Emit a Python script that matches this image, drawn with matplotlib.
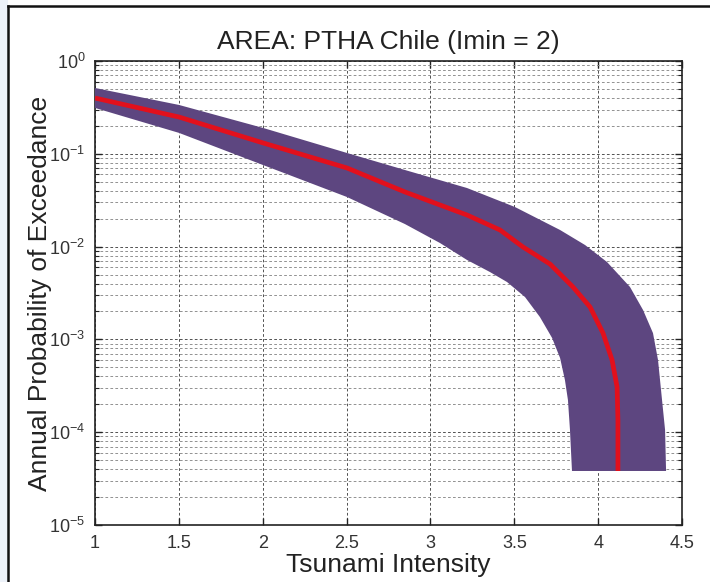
import matplotlib.pyplot as plt
import numpy as np
from matplotlib.lines import Line2D
from matplotlib.patches import Rectangle
from matplotlib.ticker import LogLocator, NullFormatter

plt.rcParams['font.family'] = ['Liberation Sans', 'DejaVu Sans']
plt.rcParams['mathtext.default'] = 'regular'

# upper edge of the uncertainty band (intensity, annual probability)
upper_x = [1.000, 1.501, 2.002, 2.503, 2.848, 3.218, 3.504, 3.773, 3.922,
           4.053, 4.190, 4.268, 4.327, 4.357, 4.381, 4.399, 4.405]
upper_p = [0.512, 0.336, 0.190, 0.102, 0.0669, 0.0428, 0.0267, 0.0151, 0.0104,
           0.00682, 0.00367, 0.00207, 0.00117, 0.000600, 0.000222, 0.000106, 3.82e-5]

# median hazard curve
median_x = [1.000, 1.501, 2.002, 2.503, 2.848, 3.218, 3.415, 3.552, 3.713,
            3.850, 3.952, 4.029, 4.083, 4.113, 4.118, 4.118]
median_p = [0.399, 0.249, 0.131, 0.0703, 0.0388, 0.0219, 0.0151, 0.00990, 0.00649,
            0.00367, 0.00223, 0.00117, 0.000600, 0.000307, 0.000135, 3.82e-5]

# lower edge of the band
lower_x = [1.000, 1.501, 2.002, 2.503, 2.848, 3.057, 3.218, 3.355, 3.457, 3.564,
           3.653, 3.725, 3.773, 3.802, 3.820, 3.832, 3.844]
lower_p = [0.312, 0.168, 0.0757, 0.0342, 0.0175, 0.01093, 0.00718, 0.00532, 0.00415,
           0.00286, 0.00174, 0.00104, 0.000631, 0.000365, 0.000222, 0.000106, 3.82e-5]

x_ticks = [1, 1.5, 2, 2.5, 3, 3.5, 4, 4.5]
x_tick_labels = ['1', '1.5', '2', '2.5', '3', '3.5', '4', '4.5']

fig = plt.figure(figsize=(7.1, 5.82), dpi=100)
ax = fig.add_axes([95/710, 1 - 525/582, 587/710, 464/582])

# band polygon: upper edge left->right then lower edge back
band_x = np.concatenate([upper_x, lower_x[::-1]])
band_p = np.concatenate([upper_p, lower_p[::-1]])
ax.fill(band_x, band_p, color='#5d4680', lw=0, zorder=3)
ax.plot(median_x, median_p, color='#e2101c', lw=3.4, solid_capstyle='butt',
        solid_joinstyle='round', zorder=4)

ax.set_yscale('log')
ax.set_xlim(1, 4.5)
ax.set_ylim(1e-5, 1)
ax.set_xticks(x_ticks)
ax.set_xticklabels(x_tick_labels)
ax.yaxis.set_major_locator(LogLocator(base=10, numticks=10))
ax.yaxis.set_minor_locator(LogLocator(base=10, subs=np.arange(2, 10), numticks=20))
ax.yaxis.set_minor_formatter(NullFormatter())

ax.grid(True, which='major', axis='both', color='#444444', ls=(0, (3, 2.5)), lw=0.65, zorder=1)
ax.grid(True, which='minor', axis='y', color='#8a8a8a', ls=(0, (3, 2.5)), lw=0.65, zorder=1)

ax.tick_params(which='both', direction='in', top=True, right=True,
               labelsize=13, colors='#222222', labelcolor='#333333')
ax.tick_params(which='major', length=5, width=1.0, pad=7)
ax.tick_params(which='minor', length=3, width=0.8)
for s in ax.spines.values():
    s.set_linewidth(1.2)
    s.set_color('#222222')

ax.set_title('AREA: PTHA Chile (Imin = 2)', fontsize=19, color='#222222', pad=9)
ax.set_xlabel('Tsunami Intensity', fontsize=19, color='#222222', labelpad=1)
ax.set_ylabel('Annual Probability of Exceedance', fontsize=19, color='#222222', labelpad=-2)

# screenshot frame
fig.patches.append(Rectangle((0, 0), 8/710, 1, transform=fig.transFigure,
                             color='#edf2f9', lw=0, zorder=0))
fig.lines.append(Line2D([8/710, 8/710], [0, 1 - 6/582], transform=fig.transFigure,
                        color='#111111', lw=1.8))
fig.lines.append(Line2D([8/710, 1], [1 - 6/582, 1 - 6/582], transform=fig.transFigure,
                        color='#111111', lw=1.8))

fig.savefig('out.png', dpi=100)
